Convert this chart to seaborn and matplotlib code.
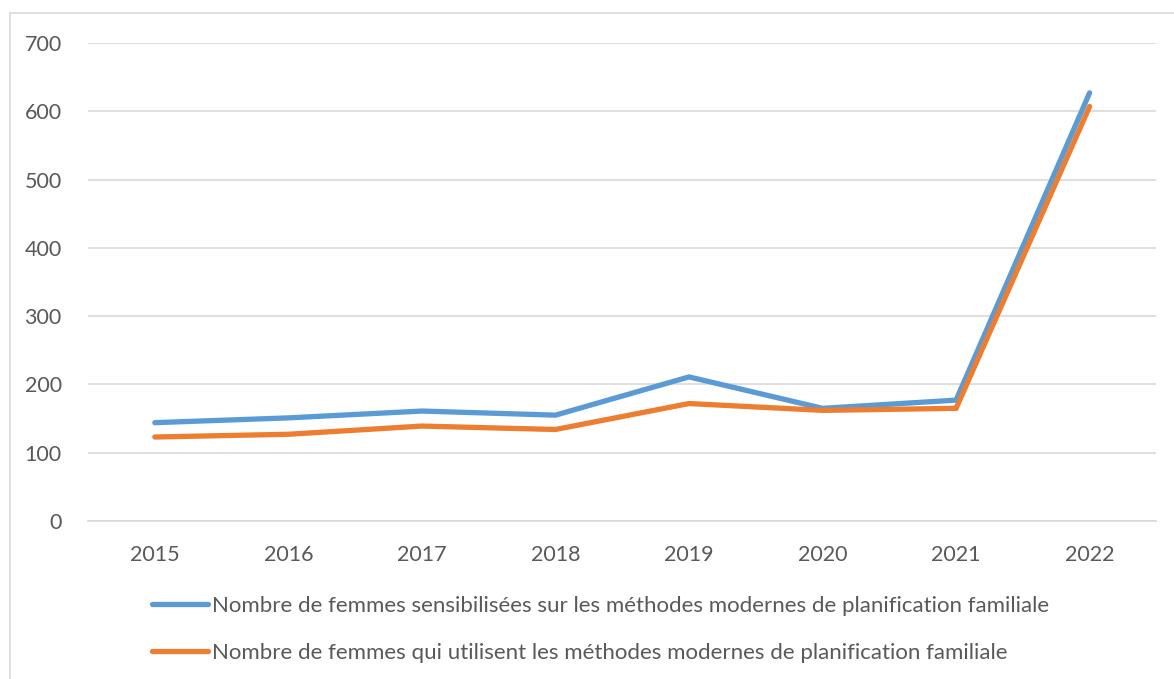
import pandas as pd
import matplotlib.pyplot as plt
import seaborn as sns
from matplotlib.patches import Rectangle

annees = ['2015', '2016', '2017', '2018', '2019', '2020', '2021', '2022']
sensibilisees = [144, 151, 161, 155, 211, 165, 177, 627]
utilisatrices = [123, 127, 139, 134, 172, 162, 165, 607]
noms = ['Nombre de femmes sensibilisées sur les méthodes modernes de planification familiale',
        'Nombre de femmes qui utilisent les méthodes modernes de planification familiale']
couleurs = ['#5B9BD5', '#ED7D31']

df = pd.DataFrame({
    'annee': annees * 2,
    'valeur': sensibilisees + utilisatrices,
    'serie': [noms[0]] * len(annees) + [noms[1]] * len(annees),
})

sns.set_style('white')
plt.rcParams['font.family'] = ['Lato', 'DejaVu Sans']
gris = '#595959'

fig = plt.figure(figsize=(11.74, 6.79), dpi=100)
ax = fig.add_axes([0.075, 0.2327, 0.91, 0.704])

sns.lineplot(data=df, x='annee', y='valeur', hue='serie', palette=couleurs,
             linewidth=3.8, ax=ax, sort=False, legend=False)
for l in ax.lines:
    l.set_solid_capstyle('round')
    l.set_solid_joinstyle('miter')

ax.set_xlim(-0.5, 7.5)
ax.set_ylim(0, 700)
ax.set_yticks(range(0, 701, 100))
ax.yaxis.grid(True, color='#D9D9D9', linewidth=1.2)
ax.set_axisbelow(True)
for s in ['left', 'right', 'top']:
    ax.spines[s].set_visible(False)
ax.spines['bottom'].set_color('#D9D9D9')
ax.spines['bottom'].set_linewidth(1.2)
ax.tick_params(axis='both', length=0, labelsize=15.5, colors=gris)
ax.tick_params(axis='x', pad=17)
ax.tick_params(axis='y', pad=19)
ax.set_xlabel('')
ax.set_ylabel('')

handles = [plt.Line2D([], [], color=c, linewidth=3.8, solid_capstyle='round') for c in couleurs]
fig.legend(handles, noms, loc='upper left', bbox_to_anchor=(0.1295, 0.122), frameon=False,
           fontsize=16, labelcolor=gris, handlelength=2.5, handletextpad=0.22,
           labelspacing=1.2, borderaxespad=0, borderpad=0)

fig.patches.append(Rectangle((10 / 1174, -0.01), 1.1, 1 - 13 / 679 + 0.01, transform=fig.transFigure,
                             fill=False, edgecolor='#D9D9D9', linewidth=1.2))

fig.savefig('out.png', dpi=100)
